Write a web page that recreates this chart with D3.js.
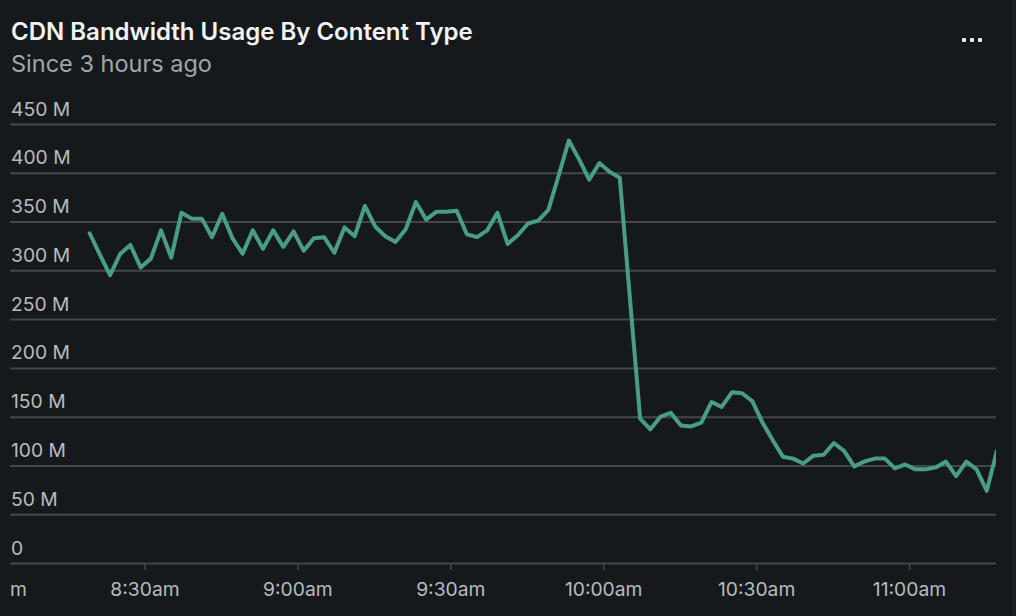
<!DOCTYPE html>
<html>
<head>
<meta charset="utf-8">
<script src="https://cdn.jsdelivr.net/npm/d3@7"></script>
<style>
  html, body { margin: 0; padding: 0; background: #16191c; }
  svg { display: block; font-family: Inter, "Noto Sans", sans-serif; }
</style>
</head>
<body>
<div id="chart"></div>
<script>
// bandwidth samples, one every 2 minutes starting at 8:19
const startTime = new Date(2024, 0, 1, 8, 19, 15);
const stepMinutes = 2;
const bandwidthM = [
  338, 316, 295, 317, 326, 303, 312, 341, 313, 359,
  353, 353, 334, 358, 333, 317, 341, 322, 341, 324,
  340, 320, 333, 334, 318, 344, 335, 366, 345, 335,
  329, 342, 370, 352, 360, 360, 361, 337, 334, 341,
  359, 327, 336, 348, 351, 362, 397, 433, 414, 393,
  410, 401, 395, 271, 148, 137, 150, 154, 141, 140,
  144, 165, 160, 175, 174, 166, 144, 126, 109, 107,
  102, 110, 111, 123, 115, 99, 104, 107, 107, 97,
  101, 96, 96, 98, 104, 89, 104, 96, 74, 115
];
const yTicks = [0, 50, 100, 150, 200, 250, 300, 350, 400, 450];
const xTicks = [
  new Date(2024, 0, 1, 8, 0), new Date(2024, 0, 1, 8, 30), new Date(2024, 0, 1, 9, 0),
  new Date(2024, 0, 1, 9, 30), new Date(2024, 0, 1, 10, 0), new Date(2024, 0, 1, 10, 30),
  new Date(2024, 0, 1, 11, 0)
];
const title = 'CDN Bandwidth Usage By Content Type';
const subtitle = 'Since 3 hours ago';

const data = bandwidthM.map((v, i) => ({
  t: d3.timeMinute.offset(startTime, i * stepMinutes),
  v: v
}));

const width = 1016, height = 616;
const plot = { left: 10, right: 996, top: 124, bottom: 563 };

const svg = d3.select('#chart').append('svg')
  .attr('width', width)
  .attr('height', height);

svg.append('rect')
  .attr('width', width).attr('height', height)
  .attr('fill', '#16191c');

// faint panel edge on the right
svg.append('rect')
  .attr('x', 1012).attr('width', 4).attr('height', height)
  .attr('fill', '#1b1f23');

const x = d3.scaleTime()
  .domain([new Date(2024, 0, 1, 8, 3, 37), new Date(2024, 0, 1, 11, 17, 4)])
  .range([plot.left, plot.right]);

const y = d3.scaleLinear()
  .domain([0, 450])
  .range([plot.bottom, plot.top]);

svg.append('defs').append('clipPath').attr('id', 'plot-clip')
  .append('rect')
  .attr('x', plot.left).attr('y', 0)
  .attr('width', plot.right - plot.left).attr('height', height);

// header
svg.append('text')
  .attr('x', 11).attr('y', 40)
  .attr('fill', '#f1f3f4')
  .attr('font-size', 24)
  .attr('font-weight', 600)
  .text(title);

svg.append('text')
  .attr('x', 11).attr('y', 72)
  .attr('fill', '#a0a7ab')
  .attr('font-size', 23.5)
  .text(subtitle);

// kebab menu
svg.append('g').selectAll('rect')
  .data([0, 1, 2])
  .join('rect')
  .attr('x', d => 962 + d * 8).attr('y', 38)
  .attr('width', 4).attr('height', 4).attr('rx', 1)
  .attr('fill', '#e8eaeb');

// y grid + labels
const yAxis = svg.append('g')
  .attr('class', 'axis axis-y')
  .attr('transform', `translate(${plot.left},0)`)
  .call(d3.axisRight(y)
    .tickValues(yTicks)
    .tickSize(plot.right - plot.left)
    .tickFormat(d => d === 0 ? '0' : d + ' M'));

yAxis.select('.domain').remove();
yAxis.selectAll('.tick line')
  .attr('stroke', '#43474b')
  .attr('stroke-width', 2);
yAxis.selectAll('.tick text')
  .attr('x', 1)
  .attr('dy', -9)
  .attr('text-anchor', 'start')
  .attr('fill', '#b6bbbe')
  .attr('font-size', 19.3)
  .attr('font-family', 'Inter, "Noto Sans", sans-serif');

// x axis
const xAxis = svg.append('g')
  .attr('class', 'axis axis-x')
  .attr('clip-path', 'url(#plot-clip)')
  .attr('transform', `translate(0,${plot.bottom})`)
  .call(d3.axisBottom(x)
    .tickValues(xTicks)
    .tickSize(7)
    .tickPadding(12)
    .tickFormat(d => d3.timeFormat('%-I:%M%p')(d).toLowerCase()));

xAxis.select('.domain').remove();
xAxis.selectAll('.tick line')
  .attr('stroke', '#43474b')
  .attr('stroke-width', 1.5);
xAxis.selectAll('.tick text')
  .attr('fill', '#b6bbbe')
  .attr('font-size', 19.3)
  .attr('font-family', 'Inter, "Noto Sans", sans-serif');

// series line
const line = d3.line()
  .x(d => x(d.t))
  .y(d => y(d.v));

svg.append('path')
  .datum(data)
  .attr('clip-path', 'url(#plot-clip)')
  .attr('fill', 'none')
  .attr('stroke', '#489d89')
  .attr('stroke-width', 4)
  .attr('stroke-linejoin', 'round')
  .attr('stroke-linecap', 'round')
  .attr('d', line);
</script>
</body>
</html>
